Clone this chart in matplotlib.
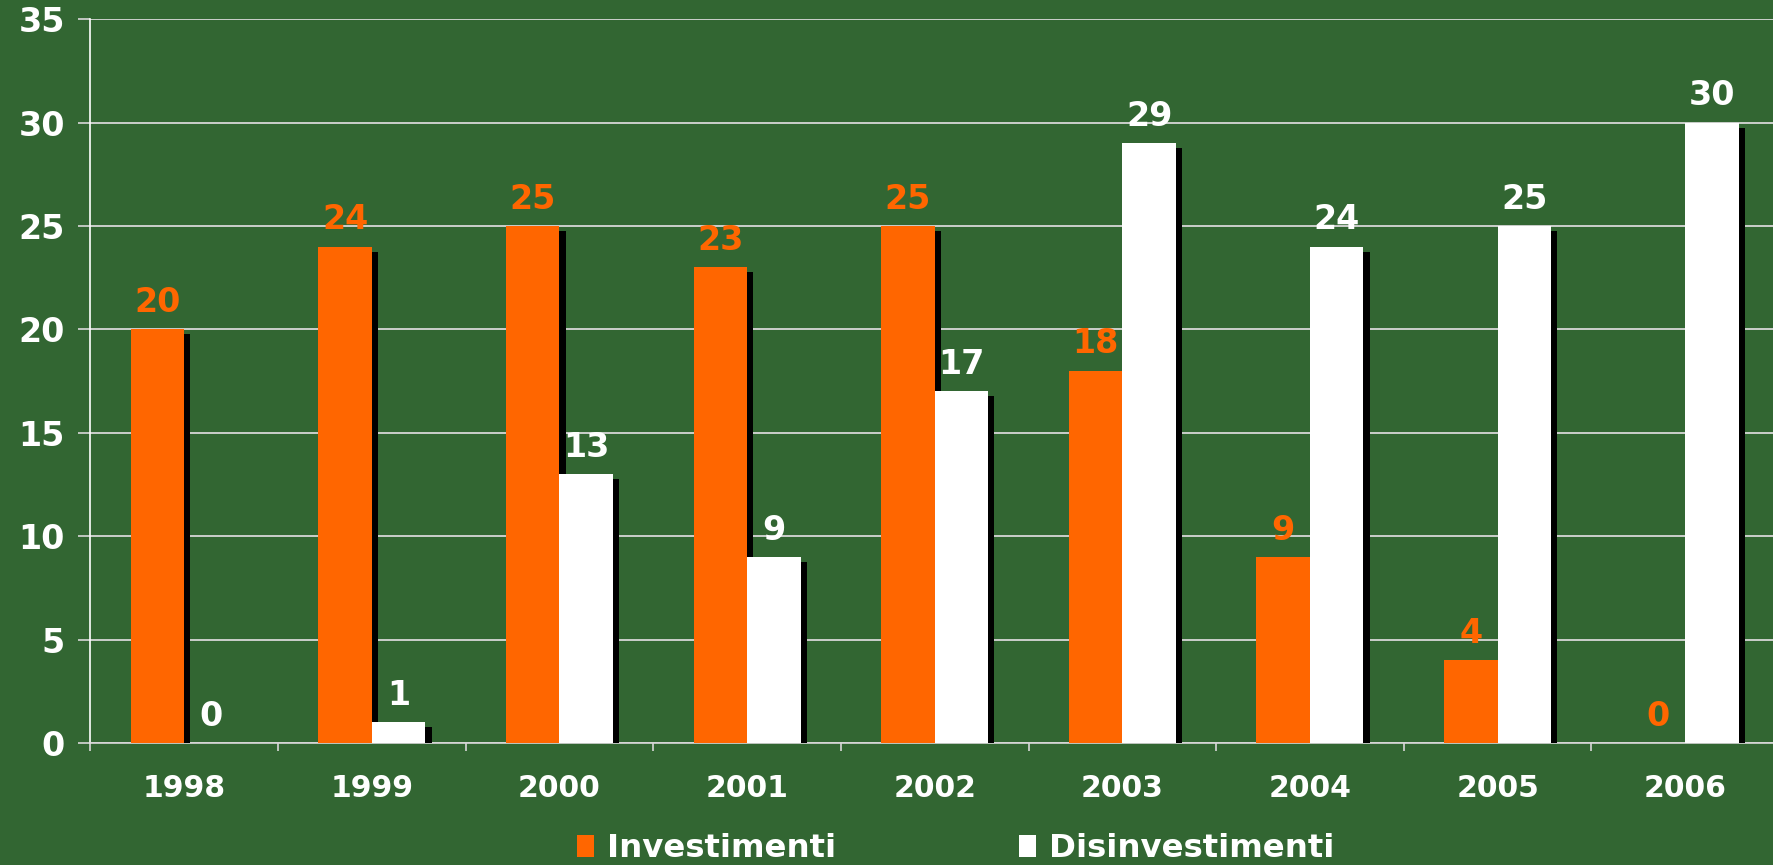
"""
Investimenti / Disinvestimenti 1998-2006

Istogramma a barre affiancate con ombra, sfondo verde.
"""

import matplotlib
matplotlib.use("Agg")
import matplotlib.pyplot as plt
import matplotlib.patheffects as pe
from matplotlib.patches import Patch
import numpy as np

# dati
anni = ["1998", "1999", "2000", "2001", "2002", "2003", "2004", "2005", "2006"]
investimenti = [20, 24, 25, 23, 25, 18, 9, 4, 0]
disinvestimenti = [0, 1, 13, 9, 17, 29, 24, 25, 30]
serie_nomi = ["Investimenti", "Disinvestimenti"]
y_ticks = [0, 5, 10, 15, 20, 25, 30, 35]

BG = "#326632"
ORANGE = "#FF6600"
WHITE = "#FFFFFF"
GRID = "#D8D8D8"

plt.rcParams["font.family"] = ["DejaVu Sans"]

fig = plt.figure(figsize=(17.73, 8.65), dpi=100, facecolor=BG)
ax = fig.add_axes([0.051, 0.141, 0.9524, 0.8368], facecolor=BG)

x = np.arange(len(anni))
w = 0.285

# ombra nera spostata a destra e in basso
ombra = [pe.SimplePatchShadow(offset=(4.5, -3.6), shadow_rgbFace="black", alpha=1.0),
         pe.Normal()]

b1 = ax.bar(x - w / 2, investimenti, w, color=ORANGE, zorder=3)
b2 = ax.bar(x + w / 2, disinvestimenti, w, color=WHITE, zorder=4)
for bars in (b1, b2):
    for r in bars:
        r.set_path_effects(ombra)

# etichette sopra le barre
for xi, v in zip(x - w / 2, investimenti):
    ax.annotate(str(v), (xi, v), xytext=(0, 12.5), textcoords="offset points",
                ha="center", va="baseline", color=ORANGE,
                fontsize=24, fontweight="bold", zorder=6)
for xi, v in zip(x + w / 2, disinvestimenti):
    ax.annotate(str(v), (xi, v), xytext=(0, 12.5), textcoords="offset points",
                ha="center", va="baseline", color=WHITE,
                fontsize=24, fontweight="bold", zorder=6)

ax.set_xlim(-0.5, len(anni) - 0.5)
ax.set_ylim(0, 35)

ax.set_yticks(y_ticks)
ax.set_yticklabels([str(t) for t in y_ticks])
ax.set_xticks(x)
ax.set_xticklabels(anni)
ax.set_xticks(np.arange(len(anni) + 1) - 0.5, minor=True)

ax.tick_params(axis="y", colors=GRID, labelcolor=WHITE, labelsize=24,
               length=8.3, width=1.2, pad=10)
ax.tick_params(axis="x", which="major", length=0, labelcolor=WHITE,
               labelsize=21.5, pad=22.5)
ax.tick_params(axis="x", which="minor", length=6, width=1.2, colors=GRID)
for lab in ax.get_xticklabels() + ax.get_yticklabels():
    lab.set_fontweight("bold")

ax.yaxis.grid(True, color=GRID, linewidth=1.3)
ax.set_axisbelow(True)

for s in ("top", "right"):
    ax.spines[s].set_visible(False)
ax.spines["left"].set_color(WHITE)
ax.spines["bottom"].set_color(GRID)
ax.spines["left"].set_linewidth(1.2)
ax.spines["bottom"].set_linewidth(1.2)

# legenda in basso
handles = [Patch(facecolor=ORANGE, edgecolor="none"),
           Patch(facecolor=WHITE, edgecolor="none")]
fig.legend(handles, serie_nomi, loc="center left",
           bbox_to_anchor=(577 / 1773, 0.0185), ncol=2, frameon=False,
           prop={"size": 23.3, "weight": "bold"}, labelcolor=WHITE,
           handlelength=0.52, handleheight=0.68, handletextpad=0.4,
           columnspacing=5.65, borderpad=0, borderaxespad=0)

fig.savefig("out.png", dpi=100, facecolor=BG)
